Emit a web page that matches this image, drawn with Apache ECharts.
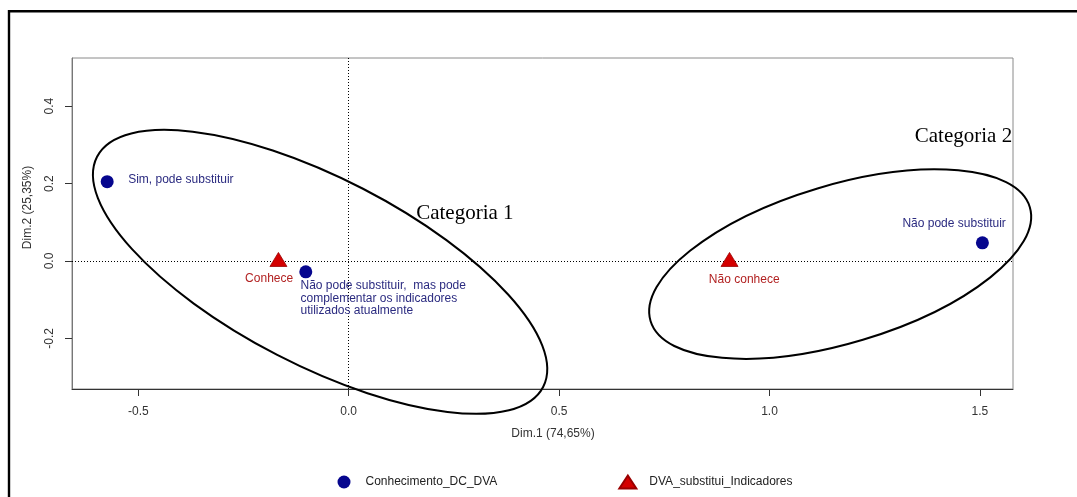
<!DOCTYPE html>
<html>
<head>
<meta charset="utf-8">
<script src="https://cdn.jsdelivr.net/npm/echarts@6/dist/echarts.min.js"></script>
<style>
html,body{margin:0;padding:0;background:#fff;}
#chart{width:1077px;height:497px;}
</style>
</head>
<body>
<div id="chart"></div>
<script>
// ---- data ----
const blueNames = ['Sim, pode substituir', 'Não pode substituir,  mas pode\ncomplementar os indicadores\nutilizados atualmente', 'Não pode substituir'];
const blueX = [-0.574, -0.102, 1.506];
const blueY = [0.205, -0.028, 0.047];
const redNames = ['Conhece', 'Não conhece'];
const redX = [-0.167, 0.905];
const redY = [0.004, 0.004];
const xTicks = [-0.5, 0.0, 0.5, 1.0, 1.5];
const yTicks = [-0.2, 0.0, 0.2, 0.4];
const groupNames = ['Categoria 1', 'Categoria 2'];
const groupCenterX = [-0.068, 1.168];
const groupCenterY = [-0.028, -0.008];
const groupLabelX = [0.276, 1.461];
const groupLabelY = [0.123, 0.321];
const legendNames = ['Conhecimento_DC_DVA', 'DVA_substitui_Indicadores'];

// ---- styles ----
const SANS = '"Liberation Sans", Arial, sans-serif';
const SERIF = '"Liberation Serif", "Times New Roman", serif';
const blueLabel = [
  {align: 'left', offset: [21, -2.4]},
  {align: 'left', offset: [-5.3, 26.5]},
  {align: 'center', offset: [-28.3, -19.4]}
];
const redLabel = [
  {align: 'center', offset: [-9.3, 19]},
  {align: 'center', offset: [14.7, 20.5]}
];
const ellipseShape = [
  {rx: 251, ry: 93.5, rot: -0.4765},
  {rx: 198, ry: 79, rot: 0.2915}
];

const chart = echarts.init(document.getElementById('chart'), null, {renderer: 'canvas'});

const blueData = blueNames.map((n, i) => ({
  name: n, value: [blueX[i], blueY[i]],
  label: {show: true, position: 'inside', formatter: '{b}', color: '#2b2b80',
    fontFamily: SANS, fontSize: 12, lineHeight: 12.5,
    verticalAlign: 'middle', align: blueLabel[i].align, offset: blueLabel[i].offset}
}));
const redData = redNames.map((n, i) => ({
  name: n, value: [redX[i], redY[i]],
  label: {show: true, position: 'inside', formatter: '{b}', color: '#b22222',
    fontFamily: SANS, fontSize: 12,
    verticalAlign: 'middle', align: redLabel[i].align, offset: redLabel[i].offset}
}));
const groupData = groupNames.map((n, i) => ({name: n, value: [groupCenterX[i], groupCenterY[i], groupLabelX[i], groupLabelY[i]]}));

const option = {
  animation: false,
  backgroundColor: '#fff',
  grid: {left: 72, right: 64, top: 58, bottom: 108, show: true, borderColor: '#8a8a8a', borderWidth: 1, backgroundColor: 'transparent'},
  xAxis: {
    type: 'value', min: -0.6576, max: 1.5787,
    splitLine: {show: false},
    axisLine: {show: true, onZero: false, lineStyle: {color: '#333', width: 1}},
    axisTick: {show: true, length: 7, lineStyle: {color: '#333'}, customValues: xTicks},
    axisLabel: {customValues: xTicks, formatter: v => v.toFixed(1), margin: 17, fontFamily: SANS, fontSize: 12, color: '#333'},
    name: 'Dim.1 (74,65%)', nameLocation: 'middle', nameGap: 39,
    nameTextStyle: {fontFamily: SANS, fontSize: 12, color: '#333', padding: [0, 0, 0, 21]}
  },
  yAxis: {
    type: 'value', min: -0.3307, max: 0.5245,
    splitLine: {show: false},
    axisLine: {show: true, onZero: false, lineStyle: {color: '#777', width: 1}},
    axisTick: {show: true, length: 7, lineStyle: {color: '#333'}, customValues: yTicks},
    axisLabel: {customValues: yTicks, formatter: v => v.toFixed(1), rotate: 90, margin: 16, fontFamily: SANS, fontSize: 12, color: '#333'},
    name: 'Dim.2 (25,35%)', nameLocation: 'middle', nameGap: 38, nameRotate: 90,
    nameTextStyle: {fontFamily: SANS, fontSize: 12, color: '#333', padding: [0, 0, 0, 32]}
  },
  legend: {
    left: 337.5, top: 474.5, padding: 0, itemGap: 121, itemWidth: 17, itemHeight: 13,
    data: [{name: legendNames[0], icon: 'circle'}, {name: legendNames[1], icon: 'triangle'}],
    textStyle: {fontFamily: SANS, fontSize: 12, color: '#222', padding: [0, 0, 0, 8]},
    selectedMode: false
  },
  graphic: [
    {type: 'line', shape: {x1: 8, y1: 11.2, x2: 1077, y2: 11.2}, style: {stroke: '#000', lineWidth: 2.4}, z: 100},
    {type: 'line', shape: {x1: 9, y1: 10, x2: 9, y2: 497}, style: {stroke: '#000', lineWidth: 2.4}, z: 100}
  ],
  series: [
    {
      name: legendNames[0], type: 'scatter', symbol: 'circle', symbolSize: 13,
      itemStyle: {color: '#06068e', opacity: 1},
      data: blueData, z: 3,
      markLine: {
        silent: true, symbol: ['none', 'none'], label: {show: false},
        lineStyle: {color: '#000', type: [1, 2], width: 1},
        data: [{xAxis: 0}, {yAxis: 0}], z: 1
      }
    },
    {
      name: legendNames[1], type: 'scatter', symbol: 'triangle', symbolSize: [17, 14],
      itemStyle: {color: '#d40000', borderColor: '#9a0000', borderWidth: 0.8, opacity: 1},
      data: redData, z: 3
    },
    {
      name: 'grupos', type: 'custom', clip: false, z: 5, silent: true,
      data: groupData,
      encode: {x: 0, y: 1},
      renderItem: function (params, api) {
        const i = params.dataIndex;
        const c = api.coord([api.value(0), api.value(1)]);
        const l = api.coord([api.value(2), api.value(3)]);
        const s = ellipseShape[i];
        return {
          type: 'group',
          children: [
            {type: 'ellipse', x: c[0], y: c[1], rotation: s.rot,
              shape: {cx: 0, cy: 0, rx: s.rx, ry: s.ry},
              style: {fill: 'none', stroke: '#000', lineWidth: 2}},
            {type: 'text', x: l[0], y: l[1],
              style: {text: groupNames[i], font: '21px ' + SERIF, fill: '#000', align: 'center', verticalAlign: 'middle'}}
          ]
        };
      }
    }
  ]
};
chart.setOption(option);
</script>
</body>
</html>
